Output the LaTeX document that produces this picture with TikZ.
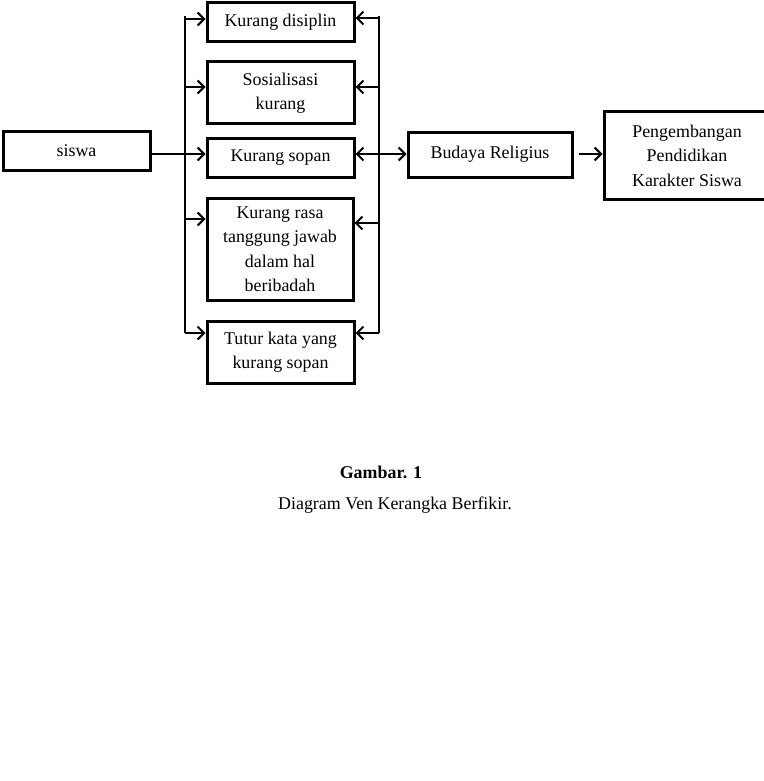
\documentclass[tikz,border=0pt]{standalone}
\usepackage{fontspec}
\setmainfont{Liberation Serif}
\usetikzlibrary{arrows.meta}
\begin{document}
\begin{tikzpicture}[x=1pt,y=-1pt,
 box/.style={draw,line width=3pt,minimum width=147pt,align=center,inner sep=0pt,font=\fontsize{17.9}{24.5}\selectfont},
 conn/.style={line width=2.1pt},
 arr/.style={conn,-{Straight Barb[length=6.5pt,width=13pt,line width=2.1pt]}},
 dbl/.style={conn,{Straight Barb[length=6.5pt,width=13pt,line width=2.1pt]}-{Straight Barb[length=6.5pt,width=13pt,line width=2.1pt]}},
 captext/.style={anchor=base,inner sep=0pt,font=\fontsize{17.9}{24.5}\selectfont}
]
\useasboundingbox (0,0) rectangle (763,781);
\fill[white] (0,0) rectangle (763,781);

\node[box,minimum height=39pt] (siswa) at (76.5,150.5) {siswa};
\node[box,minimum height=39pt] (dis) at (280.5,22.5) {Kurang disiplin};
\node[box,minimum height=62pt] (sos) at (280.5,93) {Sosialisasi\\kurang};
\node[box,minimum height=39pt] (sop) at (280.5,157.5) {Kurang sopan};
\node[box,minimum width=146pt,minimum height=102pt] (ras) at (280,249) {Kurang rasa\\tanggung jawab\\dalam hal\\beribadah};
\node[box,minimum height=62pt] (tut) at (280.5,352) {Tutur kata yang\\kurang sopan};
\node[box,minimum width=164pt,minimum height=45pt] (bud) at (490,154.5) {Budaya Religius};
\node[box,minimum width=166pt,minimum height=87pt] (peng) at (687,155.5) {Pengembangan\\Pendidikan\\Karakter Siswa};

% vertical bus lines
\coordinate (LT) at (185,16);
\coordinate (LB) at (185,333);
\coordinate (RT) at (379,16);
\coordinate (RB) at (379,333);
\draw[conn] (LT) -- (LB);
\draw[conn] (RT) -- (RB);

% left arrows
\coordinate (l1) at (185,19);
\coordinate (l2) at (185,87);
\coordinate (l3) at (185,219);
\draw[arr] (l1) -- (l1 -| dis.west);
\draw[arr] (l2) -- (l2 -| sos.west);
\draw[arr] (l3) -- (l3 -| ras.west);
\draw[arr] (LB) -- (LB -| tut.west);

% right arrows
\coordinate (r1) at (379,18);
\coordinate (r2) at (379,87);
\coordinate (r3) at (379,223);
\draw[arr] (r1) -- (r1 -| dis.east);
\draw[arr] (r2) -- (r2 -| sos.east);
\draw[arr] (r3) -- (r3 -| ras.east);
\draw[arr] (RB) -- (RB -| tut.east);

% main row
\coordinate (m) at (185,154);
\draw[arr] (m -| siswa.east) -- (m -| sop.west);
\draw[dbl] (m -| sop.east) -- (m -| bud.west);
\draw[arr] (m -| bud.east) ++(5,0) -- (m -| peng.west);

% caption
\node[captext,font=\fontsize{17.9}{24.5}\selectfont\bfseries] (gam) at (381,478) {Gambar. 1};
\node[captext] (desc) at (395,509) {Diagram Ven Kerangka Berfikir.};
\end{tikzpicture}
\end{document}
